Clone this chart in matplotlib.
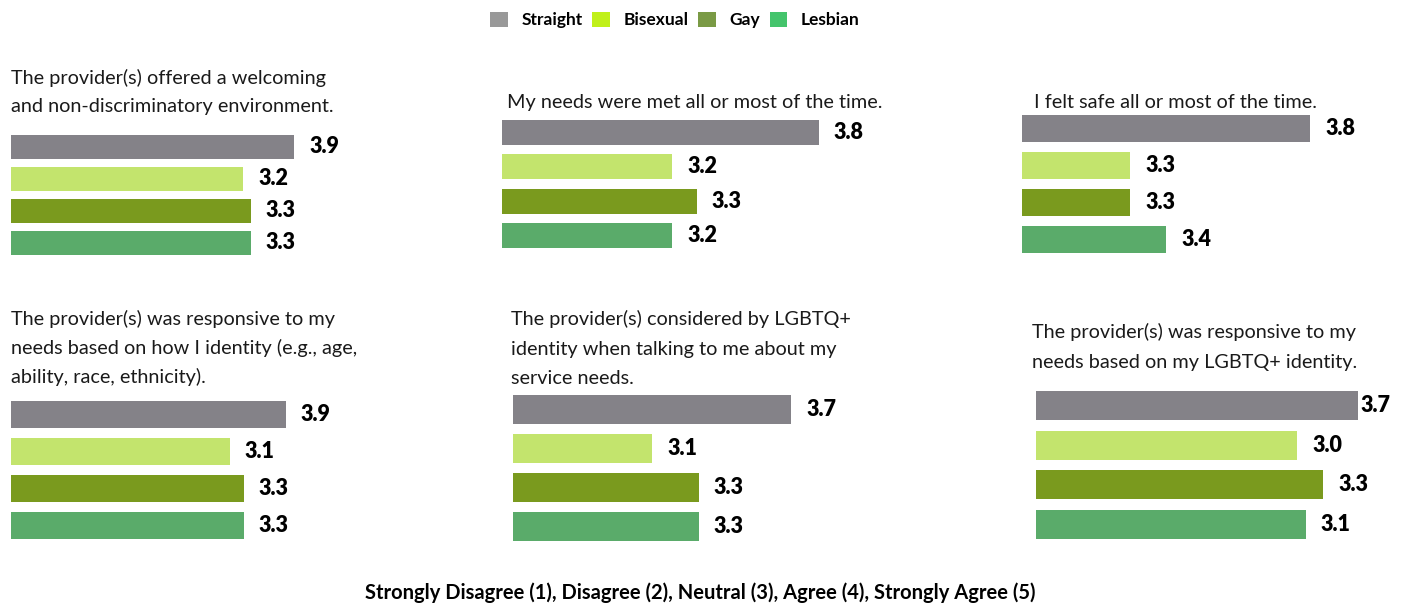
import matplotlib
matplotlib.use("Agg")
import matplotlib.pyplot as plt
from matplotlib.patches import Patch

groups = ["Straight", "Bisexual", "Gay", "Lesbian"]
bar_colors = ["#848288", "#c3e46d", "#7a9a1e", "#5aab6a"]
legend_colors = ["#999999", "#c0f01a", "#7a9a45", "#44c46c"]

titles = [
    "The provider(s) offered a welcoming\nand non-discriminatory environment.",
    "My needs were met all or most of the time.",
    "I felt safe all or most of the time.",
    "The provider(s) was responsive to my\nneeds based on how I identity (e.g., age,\nability, race, ethnicity).",
    "The provider(s) considered by LGBTQ+\nidentity when talking to me about my\nservice needs.",
    "The provider(s) was responsive to my\nneeds based on my LGBTQ+ identity.",
]
welcoming = [3.9, 3.2, 3.3, 3.3]
needs_met = [3.8, 3.2, 3.3, 3.2]
felt_safe = [3.8, 3.3, 3.3, 3.4]
responsive_identity = [3.9, 3.1, 3.3, 3.3]
considered_lgbtq = [3.7, 3.1, 3.3, 3.3]
responsive_lgbtq = [3.7, 3.0, 3.3, 3.1]
scores = [welcoming, needs_met, felt_safe, responsive_identity, considered_lgbtq, responsive_lgbtq]
scale_note = "Strongly Disagree (1), Disagree (2), Neutral (3), Agree (4), Strongly Agree (5)"

W, H = 1408, 605
FONT = "Lato"

# layout per panel (pixels): bar left, first bar top, pitch, bar height, px per unit, axis min,
# title left, first title baseline, title line spacing
layout = [
    dict(left=11, top=135, pitch=32, bh=24, ppu=72.6, xmin=0.0, tx=11, ty=84, ls=28),
    dict(left=502, top=120, pitch=34.3, bh=25, ppu=243.5, xmin=2.5, tx=507, ty=108, ls=28),
    dict(left=1022, top=115, pitch=37, bh=27, ppu=360, xmin=3.0, tx=1034, ty=108, ls=28),
    dict(left=11, top=401, pitch=37, bh=27, ppu=70.5, xmin=0.0, tx=11, ty=325, ls=29),
    dict(left=513, top=395, pitch=39, bh=29, ppu=232, xmin=2.5, tx=511, ty=325, ls=29.5),
    dict(left=1036, top=391, pitch=39.7, bh=29, ppu=87, xmin=0.0, tx=1032, ty=338, ls=30),
]

fig = plt.figure(figsize=(W / 100, H / 100), dpi=100)

for title, vals, g in zip(titles, scores, layout):
    ax_w = 380
    ax_top = g["top"] - (g["pitch"] - g["bh"]) / 2
    ax_h = 4 * g["pitch"]
    ax = fig.add_axes([g["left"] / W, 1 - (ax_top + ax_h) / H, ax_w / W, ax_h / H])
    ax.barh(range(4), [v - g["xmin"] for v in vals], left=g["xmin"],
            height=g["bh"] / g["pitch"], color=bar_colors)
    ax.set_xlim(g["xmin"], g["xmin"] + ax_w / g["ppu"])
    ax.set_ylim(3.5, -0.5)
    ax.axis("off")
    for i, v in enumerate(vals):
        end_px = g["left"] + (v - g["xmin"]) * g["ppu"]
        gap = 3 if end_px > 1340 else 15
        ax.annotate(f"{v:.1f}", (v, i), xytext=(gap, 0), textcoords="offset pixels",
                    ha="left", va="center", fontsize=15.5, fontweight="heavy",
                    family=FONT, color="black", annotation_clip=False)
    for k, line in enumerate(title.split("\n")):
        fig.text(g["tx"] / W, 1 - (g["ty"] + k * g["ls"]) / H, line, ha="left",
                 va="baseline", fontsize=14.3, family=FONT, color="#1a1a1a")

handles = [Patch(facecolor=c, edgecolor="none") for c in legend_colors]
fig.legend(handles, groups, loc="center", bbox_to_anchor=(675 / W, 1 - 20 / H), ncol=4,
           frameon=False, handlelength=1.0, handleheight=1.0, handletextpad=0.8,
           columnspacing=0.55, prop=dict(family=FONT, weight="bold", size=12.5))

fig.text(700 / W, 1 - 599 / H, scale_note, ha="center", va="baseline",
         fontsize=14.5, fontweight="bold", family=FONT, color="black")

fig.savefig("out.png", dpi=100, facecolor="white")
